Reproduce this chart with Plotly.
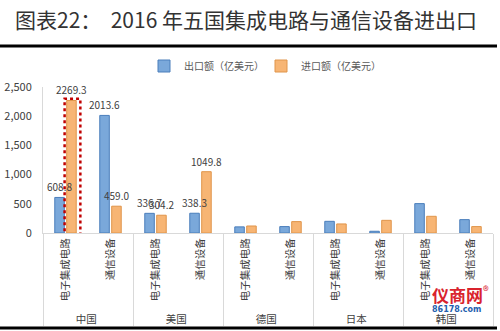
import plotly.graph_objects as go

countries = ["中国", "美国", "德国", "日本", "韩国"]
products = ["电子集成电路", "通信设备"]
export_vals = [608.8, 2013.6, 336.7, 338.3, 105, 110, 200, 30, 503, 229]
import_vals = [2269.3, 459.0, 304.2, 1049.8, 120, 195, 155, 217, 286, 110]
labeled_countries = ["中国", "美国"]
series_names = ["出口额（亿美元）", "进口额（亿美元）"]
y_ticks = [0, 500, 1000, 1500, 2000, 2500]
title_text = "图表22：  2016 年五国集成电路与通信设备进出口"

lvl0 = [c for c in countries for _ in products]
lvl1 = [p for _ in countries for p in products]

FONT = "Noto Sans CJK SC"
BARGAP = 0.47
fig = go.Figure()
fig.add_trace(go.Bar(
    x=[lvl0, lvl1], y=export_vals, name=series_names[0],
    marker=dict(color="#7aa8da", line=dict(color="#4a7ebb", width=1)),
))
fig.add_trace(go.Bar(
    x=[lvl0, lvl1], y=import_vals, name=series_names[1],
    marker=dict(color="#f7b574", line=dict(color="#e0954a", width=1)),
))

L, R, T, B = 43, 7, 87, 98
ph = 331 - T - B
fig.update_layout(
    width=500, height=331, margin=dict(l=L, r=R, t=T, b=B),
    paper_bgcolor="white", plot_bgcolor="white",
    barmode="group", bargap=BARGAP, bargroupgap=0.2,
    font=dict(family=FONT, color="#595959", size=10),
    showlegend=True,
    legend=dict(orientation="h", x=(144 - L) / 450, y=(233 - 66) / ph, xanchor="left", yanchor="middle",
                font=dict(size=10, color="#595959"), itemwidth=30, entrywidth=72,
                entrywidthmode="pixels", bgcolor="rgba(0,0,0,0)"),
    xaxis=dict(type="multicategory", tickangle=-90, showline=True, linecolor="#d9d9d9",
               showdividers=True, dividercolor="#d9d9d9", dividerwidth=1, automargin=False,
               tickfont=dict(size=10.5, color="#404040"), ticks=""),
    yaxis=dict(range=[0, 2500], tickvals=y_ticks, tickformat=",", showgrid=False,
               showline=True, linecolor="#d9d9d9", zeroline=False, ticks="", automargin=False,
               ticklabelstandoff=8, tickfont=dict(size=11, color="#404040")),
)

# value labels on top of bars (drawn above all bars)
n = len(lvl0)
half = (1 - BARGAP) / 2
for vals, sign in ((export_vals, -1), (import_vals, 1)):
    for i, (v, c) in enumerate(zip(vals, lvl0)):
        if c in labeled_countries:
            fig.add_annotation(text=f"{v:.1f}", xref="x domain", yref="y",
                               x=(i + 0.5 + sign * half / 2) / n, y=v,
                               xanchor="center", yanchor="bottom", showarrow=False, yshift=1,
                               font=dict(size=10, color="#404040", family=FONT))

# title and frame lines
fig.add_annotation(text=title_text, xref="paper", yref="paper",
                   x=(246 - L) / 450, y=(233 - 19) / ph, xanchor="center", yanchor="middle",
                   showarrow=False, font=dict(size=21, color="#333333", family=FONT))
fig.add_shape(type="line", xref="paper", yref="paper", x0=(0 - L) / 450, x1=(497 - L) / 450,
              y0=(233 - 46) / ph, y1=(233 - 46) / ph, line=dict(color="black", width=3))
fig.add_shape(type="line", xref="paper", yref="paper", x0=(0 - L) / 450, x1=(497 - L) / 450,
              y0=(233 - 328) / ph, y1=(233 - 328) / ph, line=dict(color="black", width=3))

# dotted highlight box around China IC import bar (category index 0, second bar)
ci = 0
fig.add_shape(type="rect", xref="x domain", yref="y",
              x0=(ci + 0.5 - 0.02) / n, x1=(ci + 0.5 + 0.33) / n,
              y0=-80, y1=import_vals[0] + 30,
              line=dict(color="#c00000", width=2.5, dash="dot"))

# watermark
fig.add_annotation(text="<b>仪商网</b><sup>®</sup>", xref="paper", yref="paper",
                   x=(460 - L) / 450, y=(233 - 294) / ph, xanchor="center", yanchor="middle",
                   showarrow=False, font=dict(size=17, color="#d9232d", family=FONT))
fig.add_annotation(text="<b>86178.com</b>", xref="paper", yref="paper",
                   x=(456 - L) / 450, y=(233 - 309) / ph, xanchor="center", yanchor="middle",
                   showarrow=False, font=dict(size=8, color="#1f5fae", family="DejaVu Sans"))

fig.write_html("out.html")
